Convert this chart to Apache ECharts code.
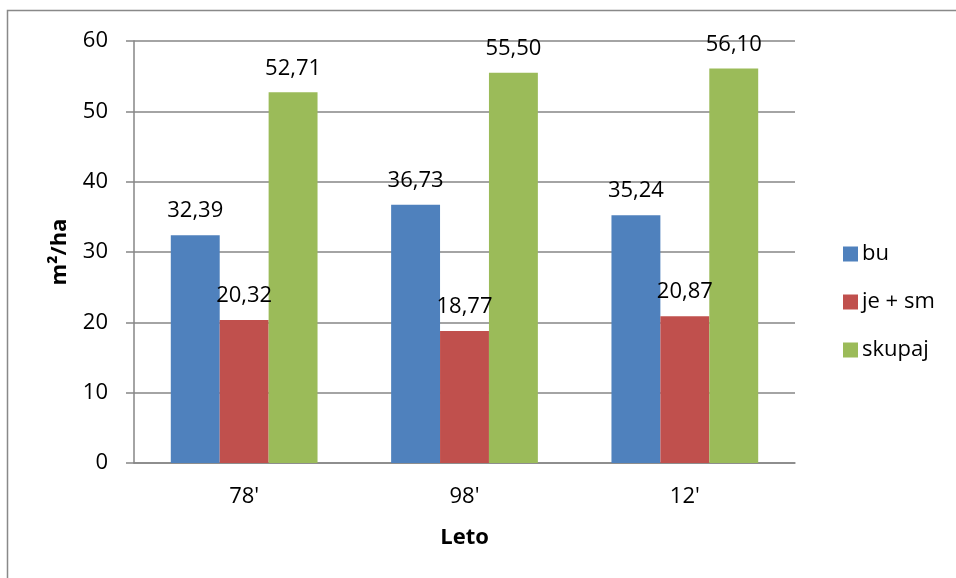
<!DOCTYPE html>
<html>
<head>
<meta charset="utf-8">
<script src="https://cdn.jsdelivr.net/npm/echarts@6/dist/echarts.min.js"></script>
<style>
  html, body { margin: 0; padding: 0; background: #ffffff; }
  #chart { width: 956px; height: 578px; }
</style>
</head>
<body>
<div id="chart"></div>
<script>
// Basal area by survey year
const categories = ["78'", "98'", "12'"];
const seriesNames = ['bu', 'je + sm', 'skupaj'];
const buValues = [32.39, 36.73, 35.24];
const jeSmValues = [20.32, 18.77, 20.87];
const skupajValues = [52.71, 55.50, 56.10];
const yTicks = [0, 10, 20, 30, 40, 50, 60];

const colors = ['#4F81BD', '#C0504D', '#9BBB59'];
const FONT = '"Open Sans", "Noto Sans", sans-serif';

const chart = echarts.init(document.getElementById('chart'), null, { renderer: 'canvas' });

function barSeries(name, data, color) {
  return {
    name: name,
    type: 'bar',
    data: data,
    barGap: '0%',
    barCategoryGap: '33.4%',
    itemStyle: { color: color },
    label: {
      show: true,
      position: 'top',
      distance: 13,
      fontFamily: FONT,
      fontSize: 22,
      color: '#000',
      formatter: p => p.value.toFixed(2).replace('.', ',')
    },
    emphasis: { disabled: true }
  };
}

chart.setOption({
  backgroundColor: '#ffffff',
  animation: false,
  textStyle: { fontFamily: FONT },
  graphic: [{
    type: 'rect',
    shape: { x: 7.5, y: 10.5, width: 1200, height: 1200 },
    style: { fill: 'none', stroke: '#898989', lineWidth: 1.5 },
    silent: true
  }],
  grid: { left: 134, right: 161, top: 41, bottom: 115, containLabel: false },
  legend: {
    orient: 'vertical',
    left: 838,
    top: 238,
    itemWidth: 15,
    itemHeight: 15,
    itemGap: 26,
    icon: 'rect',
    selectedMode: false,
    data: seriesNames,
    textStyle: { fontFamily: FONT, fontSize: 22, color: '#000', padding: [0, 0, 0, -1] }
  },
  xAxis: {
    type: 'category',
    data: categories,
    name: 'Leto',
    nameLocation: 'middle',
    nameGap: 64,
    nameTextStyle: { fontFamily: FONT, fontSize: 22, fontWeight: 'bold', color: '#000' },
    axisLine: { lineStyle: { color: '#868686', width: 1.5 } },
    axisTick: { show: false },
    axisLabel: { margin: 23, fontFamily: FONT, fontSize: 22, color: '#000' }
  },
  yAxis: {
    type: 'value',
    min: yTicks[0],
    max: yTicks[yTicks.length - 1],
    interval: 10,
    name: 'm²/ha',
    nameLocation: 'middle',
    nameGap: 63,
    nameTextStyle: { fontFamily: FONT, fontSize: 22, fontWeight: 'bold', color: '#000' },
    axisLine: { show: true, lineStyle: { color: '#868686', width: 1.5 } },
    axisTick: { show: true, length: 8, lineStyle: { color: '#868686', width: 1.5 } },
    splitLine: { lineStyle: { color: '#868686', width: 1.5 } },
    axisLabel: { margin: 26, fontFamily: FONT, fontSize: 22, color: '#000' }
  },
  series: [
    barSeries(seriesNames[0], buValues, colors[0]),
    barSeries(seriesNames[1], jeSmValues, colors[1]),
    barSeries(seriesNames[2], skupajValues, colors[2])
  ]
});
</script>
</body>
</html>
